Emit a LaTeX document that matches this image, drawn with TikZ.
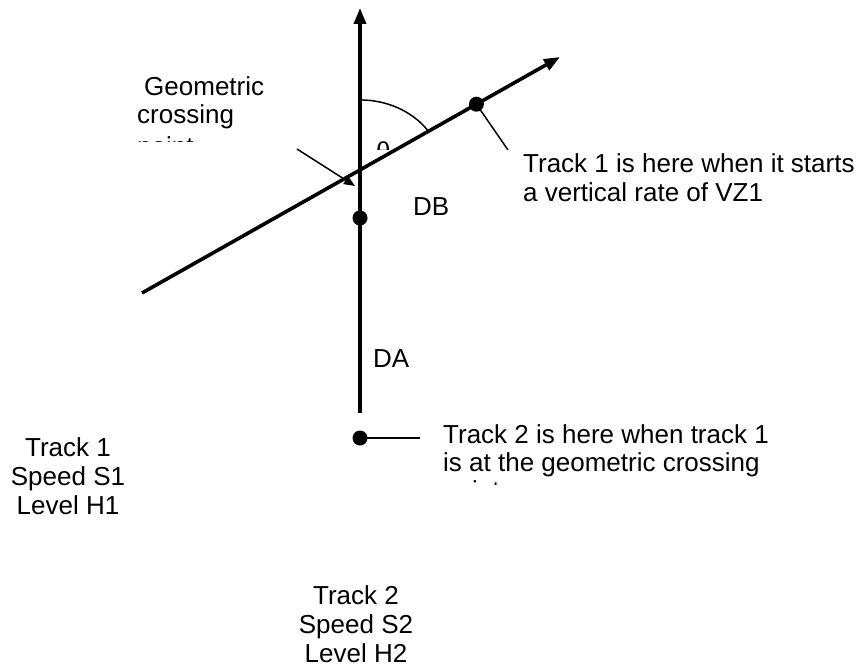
\documentclass[tikz,border=0pt]{standalone}
\usepackage{fontspec}
\setmainfont{Liberation Sans}
\usetikzlibrary{arrows.meta,calc}
\tikzset{
  thickline/.style={line width=3.6pt},
  thinline/.style={line width=1.5pt},
  bigtip/.style={-{Triangle[length=16pt,width=12pt]}},
  smalltip/.style={-{Triangle[length=11pt,width=9pt]}},
  dotmark/.style={circle,fill=black,inner sep=0pt,minimum size=15pt},
  lbl/.style={inner sep=0pt,font=\fontsize{26}{29}\selectfont},
  lblw/.style={lbl,anchor=base west},
  lblc/.style={lbl,anchor=base}
}
\begin{document}
\begin{tikzpicture}[x=1pt,y=1pt]
\useasboundingbox (0,0) rectangle (866,-668);
% main lines
\coordinate (vA) at (360,-413);
\coordinate (vB) at (360,-8);
\coordinate (oA) at (142,-293);
\coordinate (oB) at (560,-57);
\coordinate (C) at (intersection of oA--oB and vA--vB);
\draw[thickline,bigtip] (vA) -- (vB);
\draw[thickline,bigtip] (oA) -- (oB);
% angle arc
\draw[thinline] ($(C)+(0,70)$) arc[start angle=90,end angle=34.8,x radius=82pt,y radius=70pt];
\begin{scope}
\clip (365,-130) rectangle (400,-150);
\node[lblw] (theta) at (376,-161) {θ};
\end{scope}
% dots
\node[dotmark] (d1) at ($(oA)!0.80!(oB)$) {};
\node[dotmark] (d2) at (360,-218) {};
\node[dotmark] (d3) at (360,-438) {};
\coordinate (lead1) at (508,-150);
\coordinate (lead2) at (420,-438);
\draw[thinline] (d1.center) -- (lead1);
\draw[thinline] (d3.center) -- (lead2);
% pointer arrow
\coordinate (pA) at (297,-149);
\coordinate (pB) at (355,-186);
\draw[thinline,smalltip] (pA) -- (pB);
% labels
\node[lblw] (db) at (413,-215) {DB};
\node[lblw] (da) at (373,-367) {DA};
\node[lblw] (g1) at (144,-96) {Geometric};
\node[lblw] (g2) at (137,-124) {crossing};
\begin{scope}
\clip (100,-100) rectangle (300,-142);
\node[lblw] (g3) at (137,-156) {point};
\end{scope}
\node[lblw] (t1a) at (523,-173) {Track 1 is here when it starts};
\node[lblw] (t1b) at (523,-202) {a vertical rate of VZ1};
\node[lblw] (t2a) at (443,-443) {Track 2 is here when track 1};
\node[lblw] (t2b) at (443,-471) {is at the geometric crossing};
\begin{scope}
\clip (430,-470) rectangle (700,-484);
\node[lblw] (t2c) at (443,-499) {point};
\end{scope}
\node[lblc] (k1a) at (68,-456) {Track 1};
\node[lblc] (k1b) at (68,-485) {Speed S1};
\node[lblc] (k1c) at (68,-514) {Level H1};
\node[lblc] (k2a) at (356,-604) {Track 2};
\node[lblc] (k2b) at (356,-633) {Speed S2};
\node[lblc] (k2c) at (356,-662) {Level H2};
\end{tikzpicture}
\end{document}
